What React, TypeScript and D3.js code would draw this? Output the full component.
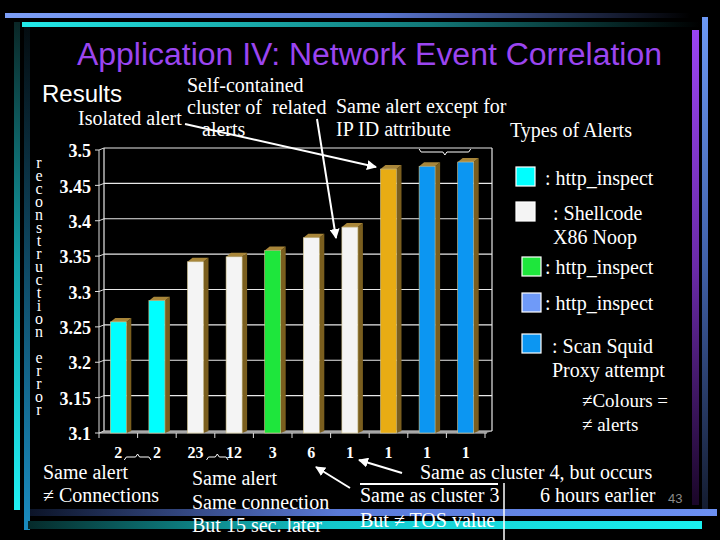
import * as d3 from "d3";

const categories = ["2", "2", "23", "12", "3", "6", "1", "1", "1", "1"];
const values = [3.257, 3.287, 3.342, 3.349, 3.358, 3.376, 3.391, 3.473, 3.477, 3.483];
const barColors = ["#00ffff", "#00ffff", "#f4f4f4", "#f4f4f4", "#1ee63c", "#f4f4f4", "#f4f4f4", "#e8ac14", "#0c96f2", "#0c96f2"];
const yTicks = [3.1, 3.15, 3.2, 3.25, 3.3, 3.35, 3.4, 3.45, 3.5];
const yLabel = "reconstruction error";

const legendColors = ["#00ffff", "#f4f4f4", "#1ee63c", "#6f9af8", "#0c96f2"];
const legendLabels = [[": http_inspect"], [": Shellcode", "X86 Noop"], [": http_inspect"], [": http_inspect"], [": Scan Squid", "Proxy attempt"]];

const width = 720;
const height = 540;
const left = 99;
const right = 485;
const depthX = 5;
const depthY = -4;

export default function App() {
    const y = d3.scaleLinear().domain([3.1, 3.5]).range([433, 150]);
    const x = d3.scalePoint<number>().domain(d3.range(categories.length)).range([left, right]).padding(0.5);
    const step = x.step();
    const barW = 16;
    const base = y(3.1);

    const serif = "'Liberation Serif', 'Times New Roman', serif";
    const sans = "'Liberation Sans', Arial, sans-serif";

    // legend rows: square position and text offsets
    const legendPos = [
        {sx: 516, sy: 167, tx: 545, ty: [185]},
        {sx: 516, sy: 202, tx: 553, ty: [220, 244]},
        {sx: 522, sy: 257, tx: 545, ty: [274]},
        {sx: 522, sy: 293, tx: 545, ty: [310]},
        {sx: 522, sy: 334, tx: 552, ty: [353, 377]},
    ];

    const brace = (x1: number, x2: number, yy: number, dir: number) => {
        const m = (x1 + x2) / 2;
        return `M${x1},${yy - 3 * dir} L${x1 + 2},${yy} L${m - 2},${yy} L${m},${yy + 3 * dir} L${m + 2},${yy} L${x2 - 2},${yy} L${x2},${yy - 3 * dir}`;
    };

    return (
        <svg width={width} height={height} style={{position: "absolute", left: 0, top: 0}}>
            <defs>
                <linearGradient id="topBlue" x1="0" x2="1" y1="0" y2="0">
                    <stop offset="0" stopColor="#7c9ef6"/>
                    <stop offset="0.55" stopColor="#5a76d0"/>
                    <stop offset="1" stopColor="#000"/>
                </linearGradient>
                <linearGradient id="topCyan" x1="0" x2="1" y1="0" y2="0">
                    <stop offset="0" stopColor="#22eaea"/>
                    <stop offset="0.6" stopColor="#127878"/>
                    <stop offset="1" stopColor="#000"/>
                </linearGradient>
                <linearGradient id="leftOuter" x1="0" x2="0" y1="0" y2="1">
                    <stop offset="0" stopColor="#0a2626"/>
                    <stop offset="0.5" stopColor="#12a0a8"/>
                    <stop offset="1" stopColor="#20f0f4"/>
                </linearGradient>
                <linearGradient id="leftInner" x1="0" x2="0" y1="0" y2="1">
                    <stop offset="0" stopColor="#040c10"/>
                    <stop offset="1" stopColor="#1a8cc0"/>
                </linearGradient>
                <linearGradient id="rightPurple" x1="0" x2="0" y1="0" y2="1">
                    <stop offset="0" stopColor="#9a44f2"/>
                    <stop offset="0.5" stopColor="#6a2aa8"/>
                    <stop offset="1" stopColor="#1a0628"/>
                </linearGradient>
                <linearGradient id="rightBlue" x1="0" x2="0" y1="0" y2="1">
                    <stop offset="0" stopColor="#6c98f4"/>
                    <stop offset="0.5" stopColor="#4060a8"/>
                    <stop offset="1" stopColor="#141c30"/>
                </linearGradient>
                <linearGradient id="botBlue" x1="0" x2="1" y1="0" y2="0">
                    <stop offset="0" stopColor="#0c1428"/>
                    <stop offset="0.45" stopColor="#5a7ad8"/>
                    <stop offset="1" stopColor="#6c90f2"/>
                </linearGradient>
                <linearGradient id="botCyan" x1="0" x2="1" y1="0" y2="0">
                    <stop offset="0" stopColor="#052a2a"/>
                    <stop offset="0.45" stopColor="#14c8cc"/>
                    <stop offset="1" stopColor="#1af0f0"/>
                </linearGradient>
                <marker id="arrow" viewBox="0 0 10 10" refX="9" refY="5" markerWidth="5" markerHeight="5" orient="auto">
                    <path d="M0,0 L10,5 L0,10 z" fill="#fff"/>
                </marker>
            </defs>

            <rect width={width} height={height} fill="#000"/>

            {/* slide decoration */}
            <rect x={5} y={13} width={685} height={5} fill="url(#topBlue)"/>
            <rect x={22} y={22} width={678} height={5} fill="url(#topCyan)"/>
            <rect x={14} y={22} width={6} height={488} fill="url(#leftOuter)"/>
            <rect x={24} y={27} width={6} height={503} fill="url(#leftInner)"/>
            <rect x={692} y={30} width={7} height={475} fill="url(#rightPurple)"/>
            <rect x={702} y={17} width={6} height={492} fill="url(#rightBlue)"/>
            <rect x={30} y={509} width={687} height={7} fill="url(#botBlue)"/>
            <rect x={28} y={521} width={674} height={8} fill="url(#botCyan)"/>

            <text x={77} y={65} textLength={585} lengthAdjust="spacingAndGlyphs" fontFamily={sans} fontSize={31} fill="#9b45f0">
                Application IV: Network Event Correlation
            </text>
            <text x={42} y={102} fontFamily={sans} fontSize={24} fill="#fff">Results</text>

            {/* back wall and floor */}
            <polygon points={`${left},${base} ${right + 2},${base} ${right + 2 + depthX},${base - 2} ${left + depthX},${base - 2}`} fill="#6e6e6e"/>
            {yTicks.map(t => (
                <line key={"g" + t} x1={left + depthX} x2={right + 2 + depthX} y1={y(t) - 2} y2={y(t) - 2} stroke="#e8e8e8" strokeWidth={1.2}/>
            ))}
            <line x1={left + depthX} x2={left + depthX} y1={y(3.5) - 2} y2={base - 2} stroke="#e8e8e8" strokeWidth={1.2}/>
            <line x1={right + 2 + depthX} x2={right + 2 + depthX} y1={y(3.5) - 2} y2={base - 2} stroke="#e8e8e8" strokeWidth={1.2}/>

            {/* front axes */}
            <line x1={left} x2={left} y1={y(3.5)} y2={base} stroke="#ddd" strokeWidth={1}/>
            <line x1={left} x2={right + 2} y1={base} y2={base} stroke="#ddd" strokeWidth={1}/>
            {yTicks.map(t => (
                <g key={"t" + t}>
                    <line x1={left - 4} x2={left} y1={y(t)} y2={y(t)} stroke="#ddd"/>
                    <line x1={left} x2={left + depthX} y1={y(t)} y2={y(t) - 2} stroke="#ddd"/>
                    <text x={91} y={y(t) + 3} textAnchor="end" dominantBaseline="middle" fontFamily={serif} fontWeight="bold" fontSize={18} fill="#fff">
                        {String(+t.toFixed(2))}
                    </text>
                </g>
            ))}
            {d3.range(categories.length + 1).map(k => (
                <line key={"xt" + k} x1={left + k * step} x2={left + k * step} y1={base} y2={base + 5} stroke="#ddd"/>
            ))}

            {/* bars */}
            {values.map((v, i) => {
                const cx = x(i)!;
                const x0 = cx - barW / 2;
                const x1 = cx + barW / 2;
                const top = y(v);
                return (
                    <g key={"b" + i}>
                        <polygon points={`${x1},${top} ${x1 + depthX},${top + depthY} ${x1 + depthX},${base - 2} ${x1},${base}`} fill="#7a5e1e"/>
                        <polygon points={`${x0},${top} ${x0 + depthX},${top + depthY} ${x1 + depthX},${top + depthY} ${x1},${top}`} fill="#a8863a"/>
                        <rect x={x0} y={top} width={barW} height={base - top} fill={barColors[i]} stroke="#d8c890" strokeWidth={0.6}/>
                    </g>
                );
            })}

            {categories.map((c, i) => (
                <text key={"c" + i} x={x(i)!} y={458} textAnchor="middle" fontFamily={serif} fontWeight="bold" fontSize={16} fill="#fff">
                    {c}
                </text>
            ))}
            <path d={brace(x(0)! + 6, x(1)! - 6, 457, -1)} fill="none" stroke="#fff" strokeWidth={1}/>
            <path d={brace(x(2)! + 11, x(3)! - 6, 457, -1)} fill="none" stroke="#fff" strokeWidth={1}/>
            <path d={brace(x(8)! - 8, x(9)! + 5, 152, 1)} fill="none" stroke="#fff" strokeWidth={1}/>

            {/* stacked y label, upright vertical text */}
            <text x={39} y={154} fontFamily={serif} fontSize={16} fill="#fff" letterSpacing={-4}
                  style={{writingMode: "vertical-rl", textOrientation: "upright"}}>
                {yLabel}
            </text>

            {/* annotations */}
            <g fontFamily={serif} fontSize={20} fill="#fff">
                <text x={187} y={92}>Self-contained</text>
                <text x={187} y={114}>{"cluster of\u00a0 related"}</text>
                <text x={202} y={136}>alerts</text>
                <text x={78} y={125}>Isolated alert</text>
                <text x={336} y={113}>Same alert except for</text>
                <text x={336} y={136}>IP ID attribute</text>
                <text x={510} y={137}>Types of Alerts</text>

                <text x={43} y={479}>Same alert</text>
                <text x={43} y={502}>≠ Connections</text>
                <text x={192} y={485}>Same alert</text>
                <text x={192} y={509}>Same connection</text>
                <text x={192} y={532}>But 15 sec. later</text>
                <text x={420} y={479}>Same as cluster 4, but occurs</text>
                <text x={360} y={502}>Same as cluster 3</text>
                <text x={540} y={502}>6 hours earlier</text>
                <text x={360} y={527}>But ≠ TOS value</text>
            </g>
            <line x1={185} y1={124} x2={376} y2={167} stroke="#fff" strokeWidth={2} markerEnd="url(#arrow)"/>
            <line x1={317} y1={119} x2={336} y2={238} stroke="#fff" strokeWidth={2} markerEnd="url(#arrow)"/>
            <line x1={350} y1={488} x2={316} y2={467} stroke="#fff" strokeWidth={2} markerEnd="url(#arrow)"/>
            <line x1={402} y1={473} x2={359} y2={460} stroke="#fff" strokeWidth={2} markerEnd="url(#arrow)"/>
            <line x1={360} x2={498} y1={484} y2={484} stroke="#fff" strokeWidth={2}/>
            <line x1={504} x2={504} y1={483} y2={540} stroke="#fff" strokeWidth={1.5}/>

            {/* legend */}
            {legendColors.map((col, i) => (
                <g key={"lg" + i}>
                    <rect x={legendPos[i].sx} y={legendPos[i].sy} width={19} height={19} fill={col} stroke="#fff" strokeWidth={1.2}/>
                    {legendLabels[i].map((t, j) => (
                        <text key={j} x={legendPos[i].tx} y={legendPos[i].ty[j]} fontFamily={serif} fontSize={20} fill="#fff">{t}</text>
                    ))}
                </g>
            ))}
            <text x={582} y={407} fontFamily={serif} fontSize={19} fill="#fff">≠Colours =</text>
            <text x={582} y={431} fontFamily={serif} fontSize={19} fill="#fff">≠ alerts</text>
            <text x={668} y={503} fontFamily={sans} fontSize={13} fill="#8a8a8a">43</text>
        </svg>
    );
}
